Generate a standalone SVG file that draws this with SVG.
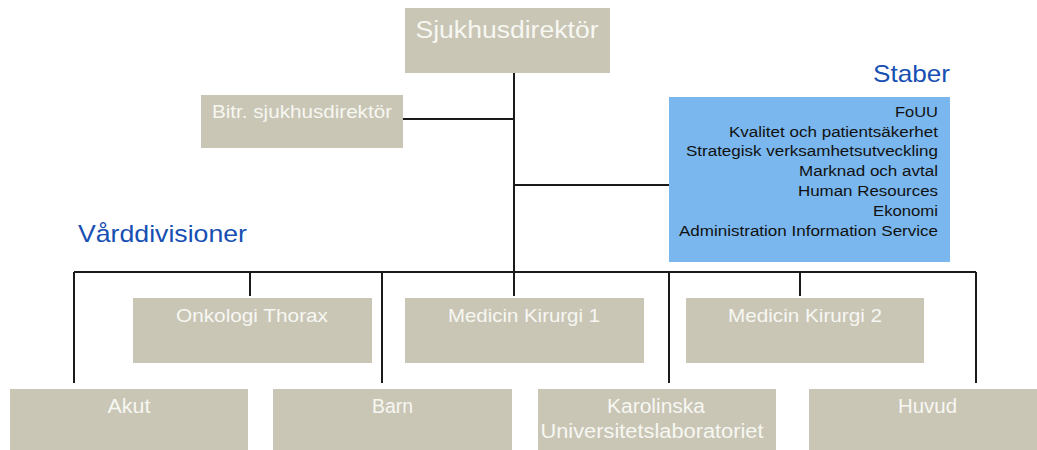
<svg xmlns="http://www.w3.org/2000/svg" width="1037" height="450" viewBox="0 0 1037 450">
<style>
.box{fill:#c9c6b6}
.blue{fill:#79b7ee}
.wt{fill:#f7f7f2;font-family:"Liberation Sans",Arial,sans-serif;text-anchor:middle}
.bt{fill:#111;font-family:"Liberation Sans",Arial,sans-serif;font-size:15.5px;text-anchor:end}
.hd{fill:#174fb2;font-family:"Liberation Sans",Arial,sans-serif;font-size:24px}
.ln{stroke:#1a1a1a;stroke-width:2;fill:none}
</style>
<rect width="1037" height="450" fill="#ffffff"/>
<g id="connectors" class="ln">
<path d="M514 73V296"/>
<path d="M403 119H514"/>
<path d="M514 185H669"/>
<path d="M74 272H976"/>
<path d="M74 272V383"/>
<path d="M250 272V296"/>
<path d="M382 272V383"/>
<path d="M669 272V383"/>
<path d="M800 272V296"/>
<path d="M976 272V383"/>
</g>
<g id="sjukhusdirektor">
<rect class="box" x="405" y="8" width="205" height="65"/>
<text class="wt" x="507" y="38" font-size="23" textLength="183" lengthAdjust="spacingAndGlyphs">Sjukhusdirektör</text>
</g>
<g id="bitr">
<rect class="box" x="201" y="95" width="202" height="53"/>
<text class="wt" x="302" y="118" font-size="18" textLength="180" lengthAdjust="spacingAndGlyphs">Bitr. sjukhusdirektör</text>
</g>
<g id="staber-label">
<text class="hd" x="950" y="82" text-anchor="end" font-size="23.5" textLength="77" lengthAdjust="spacingAndGlyphs">Staber</text>
</g>
<g id="staber">
<rect class="blue" x="669" y="97" width="281" height="165"/>
<text class="bt" x="938" y="117" textLength="43" lengthAdjust="spacingAndGlyphs">FoUU</text>
<text class="bt" x="938" y="137" textLength="209" lengthAdjust="spacingAndGlyphs">Kvalitet och patientsäkerhet</text>
<text class="bt" x="938" y="156" textLength="252" lengthAdjust="spacingAndGlyphs">Strategisk verksamhetsutveckling</text>
<text class="bt" x="938" y="176" textLength="139" lengthAdjust="spacingAndGlyphs">Marknad och avtal</text>
<text class="bt" x="938" y="196" textLength="140" lengthAdjust="spacingAndGlyphs">Human Resources</text>
<text class="bt" x="938" y="216" textLength="65" lengthAdjust="spacingAndGlyphs">Ekonomi</text>
<text class="bt" x="938" y="236" textLength="259" lengthAdjust="spacingAndGlyphs">Administration Information Service</text>
</g>
<g id="varddivisioner-label">
<text class="hd" x="78" y="242" textLength="169" lengthAdjust="spacingAndGlyphs">Vårddivisioner</text>
</g>
<g id="onkologi">
<rect class="box" x="133" y="298" width="239" height="65"/>
<text class="wt" x="252" y="322" font-size="18.5" textLength="152" lengthAdjust="spacingAndGlyphs">Onkologi Thorax</text>
</g>
<g id="mk1">
<rect class="box" x="405" y="298" width="239" height="65"/>
<text class="wt" x="524" y="322" font-size="18.5" textLength="152" lengthAdjust="spacingAndGlyphs">Medicin Kirurgi 1</text>
</g>
<g id="mk2">
<rect class="box" x="686" y="298" width="238" height="65"/>
<text class="wt" x="805" y="322" font-size="18.5" textLength="154" lengthAdjust="spacingAndGlyphs">Medicin Kirurgi 2</text>
</g>
<g id="akut">
<rect class="box" x="10" y="389" width="238" height="70"/>
<text class="wt" x="129" y="413" font-size="19.5" textLength="43" lengthAdjust="spacingAndGlyphs">Akut</text>
</g>
<g id="barn">
<rect class="box" x="273" y="389" width="239" height="70"/>
<text class="wt" x="392.5" y="413" font-size="19.5" textLength="41" lengthAdjust="spacingAndGlyphs">Barn</text>
</g>
<g id="karolinska">
<rect class="box" x="538" y="389" width="238" height="70"/>
<text class="wt" x="656" y="413" font-size="19.5" textLength="98" lengthAdjust="spacingAndGlyphs">Karolinska</text>
<text class="wt" x="652" y="438" font-size="19.5" textLength="223" lengthAdjust="spacingAndGlyphs">Universitetslaboratoriet</text>
</g>
<g id="huvud">
<rect class="box" x="809" y="389" width="238" height="70"/>
<text class="wt" x="927.5" y="413" font-size="19.5" textLength="59" lengthAdjust="spacingAndGlyphs">Huvud</text>
</g>
</svg>
